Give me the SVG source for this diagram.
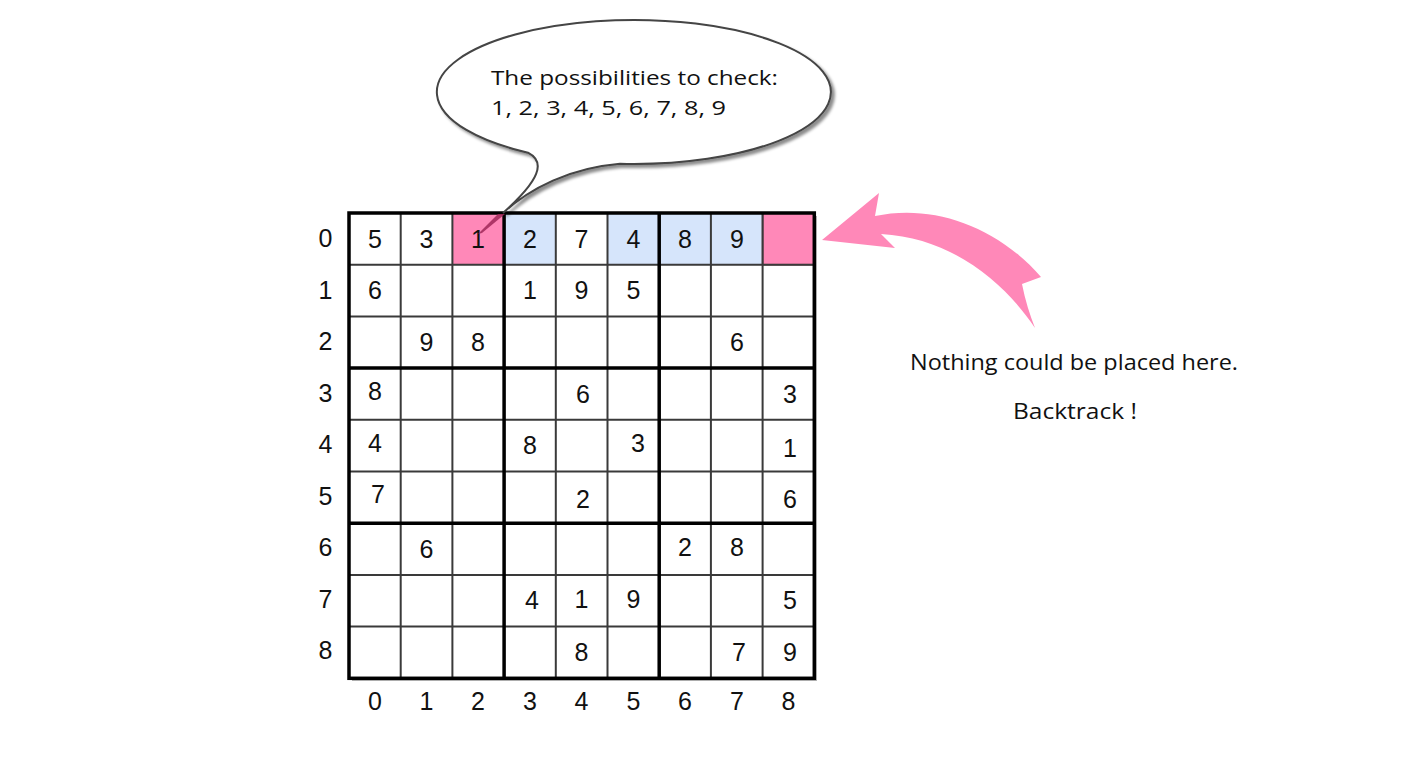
<svg xmlns="http://www.w3.org/2000/svg" width="1428" height="758" viewBox="0 0 1428 758">
<style>
.d{font-family:"Liberation Sans","Open Sans",sans-serif;font-size:25px;fill:#111;text-anchor:middle}
.t{font-family:"Open Sans","Liberation Sans",sans-serif;font-size:20px;fill:#111}
.n{font-family:"Open Sans","Liberation Sans",sans-serif;font-size:21px;fill:#111;text-anchor:middle}
.thin{stroke:#3a3a3a;stroke-width:2;fill:none}
.thick{stroke:#000;stroke-width:3.5;fill:none}
.pink{fill:#FF88B8}
.blue{fill:#D6E5FB}
</style>
<defs>
<filter id="sh" x="-10%" y="-10%" width="130%" height="130%">
<feGaussianBlur in="SourceAlpha" stdDeviation="1.5"/>
<feOffset dx="3" dy="3" result="b"/>
<feFlood flood-color="#000" flood-opacity="0.45"/>
<feComposite in2="b" operator="in"/>
<feMerge><feMergeNode/><feMergeNode in="SourceGraphic"/></feMerge>
</filter>
</defs>
<rect width="1428" height="758" fill="#fff"/>

<g id="grid">
<rect x="352" y="216" width="465" height="465" fill="#b5b5b5"/>
<rect x="349" y="213" width="465.3" height="465.3" fill="#fff"/>
<rect class="pink" x="452.4" y="213" width="51.7" height="51.7"/>
<rect class="blue" x="504.1" y="213" width="51.7" height="51.7"/>
<rect class="blue" x="607.5" y="213" width="155.1" height="51.7"/>
<rect class="pink" x="762.6" y="213" width="51.7" height="51.7" stroke="#7a2a45" stroke-width="1.5"/>
<path class="thin" d="M400.7 213V678.3M452.4 213V678.3M555.8 213V678.3M607.5 213V678.3M710.9 213V678.3M762.6 213V678.3M349 264.7H814.3M349 316.4H814.3M349 419.8H814.3M349 471.5H814.3M349 574.9H814.3M349 626.6H814.3"/>
<path class="thick" d="M504.1 213V678.3M659.2 213V678.3M349 368.1H814.3M349 523.2H814.3"/>
<rect class="thick" x="349" y="213" width="465.3" height="465.3"/>
</g>

<g id="digits">
<text class="d" x="375" y="247.5">5</text><text class="d" x="426.5" y="247.5">3</text><text class="d" x="478" y="247.5">1</text><text class="d" x="530" y="247.5">2</text><text class="d" x="581.5" y="247.5">7</text><text class="d" x="633.5" y="247.5">4</text><text class="d" x="685" y="247.5">8</text><text class="d" x="737" y="247.5">9</text>
<text class="d" x="375" y="299">6</text><text class="d" x="530" y="299">1</text><text class="d" x="581.5" y="299">9</text><text class="d" x="633.5" y="299">5</text>
<text class="d" x="426.5" y="351">9</text><text class="d" x="478" y="351">8</text><text class="d" x="737" y="351">6</text>
<text class="d" x="375" y="400">8</text><text class="d" x="583" y="402.5">6</text><text class="d" x="790" y="402.5">3</text>
<text class="d" x="375" y="452">4</text><text class="d" x="530" y="454">8</text><text class="d" x="638" y="452">3</text><text class="d" x="790" y="457">1</text>
<text class="d" x="378" y="503">7</text><text class="d" x="583" y="508">2</text><text class="d" x="790" y="508">6</text>
<text class="d" x="426.5" y="557.5">6</text><text class="d" x="685" y="556">2</text><text class="d" x="737" y="556">8</text>
<text class="d" x="532" y="609">4</text><text class="d" x="581.5" y="607.5">1</text><text class="d" x="633.5" y="607.5">9</text><text class="d" x="790" y="609">5</text>
<text class="d" x="581.5" y="661">8</text><text class="d" x="739" y="661">7</text><text class="d" x="790" y="661">9</text>
</g>

<g id="row-labels">
<text class="d" x="325.5" y="247">0</text><text class="d" x="325.5" y="298.5">1</text><text class="d" x="325.5" y="350">2</text><text class="d" x="325.5" y="401.5">3</text><text class="d" x="325.5" y="453">4</text><text class="d" x="325.5" y="504.5">5</text><text class="d" x="325.5" y="556">6</text><text class="d" x="325.5" y="607.5">7</text><text class="d" x="325.5" y="659">8</text>
</g>
<g id="col-labels">
<text class="d" x="375" y="710">0</text><text class="d" x="426.5" y="710">1</text><text class="d" x="478" y="710">2</text><text class="d" x="530" y="710">3</text><text class="d" x="581.5" y="710">4</text><text class="d" x="633.5" y="710">5</text><text class="d" x="685" y="710">6</text><text class="d" x="737" y="710">7</text><text class="d" x="788.5" y="710">8</text>
</g>

<g id="callout">
<path d="M620 163.8A197 72 0 1 0 528 152.7C546 162 540 180 503 213C530 188 570 168 620 163.8Z" fill="#fff" stroke="#444" stroke-width="2" filter="url(#sh)"/>
<path d="M498 214L505 214L482 233L478 234Z" fill="#A02858" opacity="0.85"/>
<text class="t" x="491" y="85" textLength="287" lengthAdjust="spacingAndGlyphs">The possibilities to check:</text>
<text class="t" x="491" y="115" textLength="235" lengthAdjust="spacingAndGlyphs">1, 2, 3, 4, 5, 6, 7, 8, 9</text>
</g>

<g id="connectors">
<path class="pink" d="M822 240L879 193L875 216C930 204 995 224 1041 277L1022 284C1025 300 1030 315 1035 328C1010 290 958 238 881 234L895 248Z"/>
</g>

<g id="note">
<text class="n" x="1074" y="370" textLength="328" lengthAdjust="spacingAndGlyphs">Nothing could be placed here.</text>
<text class="n" x="1075" y="419" textLength="124" lengthAdjust="spacingAndGlyphs">Backtrack !</text>
</g>
</svg>
